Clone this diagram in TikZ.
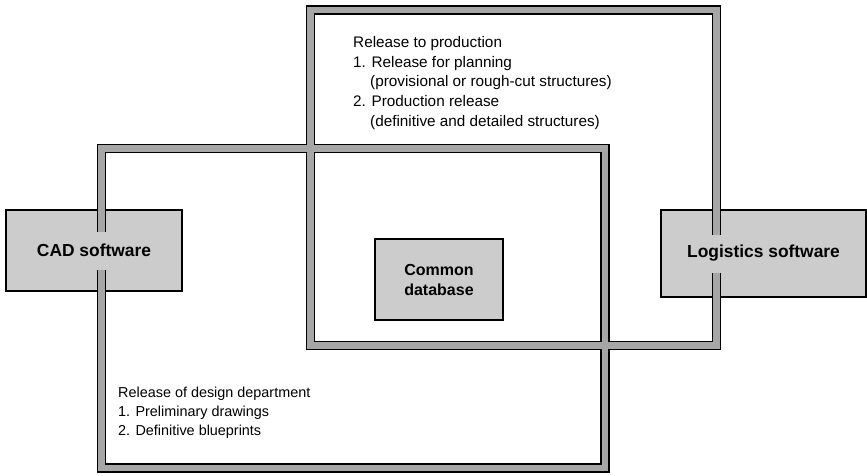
\documentclass[tikz,border=0pt]{standalone}
\usepackage{fontspec}
\setmainfont{Liberation Sans}
\definecolor{boxgray}{RGB}{204,204,204}
\definecolor{bandgray}{RGB}{166,166,166}
\begin{document}
\begin{tikzpicture}[x=1pt,y=-1pt,
  box/.style={draw=black, line width=1.5pt, fill=boxgray},
  bandout/.style={draw=black, line width=9.5pt},
  bandin/.style={draw=bandgray, line width=6.5pt},
  lbl/.style={font=\fontsize{17.4}{20.5}\selectfont\bfseries, align=center, inner sep=0pt},
  mask/.style={fill=boxgray, minimum height=38pt, inner xsep=4pt},
  txt/.style={font=\fontsize{15.3}{19}\selectfont, anchor=base west, inner sep=0pt},
  txtb/.style={font=\fontsize{14.4}{19}\selectfont, anchor=base west, inner sep=0pt}]
\useasboundingbox (0,0) rectangle (867,475);
% boxes
\node[box, minimum width=176pt, minimum height=81pt] (cad) at (94,250.5) {};
\node[box, minimum width=205pt, minimum height=87pt] (log) at (763.5,253.5) {};
% frames
\draw[bandout] (310.5,10) rectangle (716.5,345.5);
\draw[bandout] (101.5,148.5) rectangle (605,468);
\draw[bandin] (310.5,10) rectangle (716.5,345.5);
\draw[bandin] (101.5,148.5) rectangle (605,468);
% labels
\node[lbl, mask] (cadt) at (cad) {CAD software};
\node[lbl, mask] (logt) at (log) {Logistics software};
\node[box, lbl, font=\fontsize{16}{20}\selectfont\bfseries, minimum width=128pt, minimum height=81pt] (db) at (439,279.5) {Common\\database};
% texts
\node[txt] (t1) at (353,47.5) {Release to production};
\node[txt] (t2) at (353,67.2) {1. Release for planning};
\node[txt] (t3) at (370,86.9) {(provisional or rough-cut structures)};
\node[txt] (t4) at (353,106.6) {2. Production release};
\node[txt] (t5) at (370,126.3) {(definitive and detailed structures)};
\node[txtb] (b1) at (118,397.3) {Release of design department};
\node[txtb] (b2) at (118,416.6) {1. Preliminary drawings};
\node[txtb] (b3) at (118,435.9) {2. Definitive blueprints};
\end{tikzpicture}
\end{document}
